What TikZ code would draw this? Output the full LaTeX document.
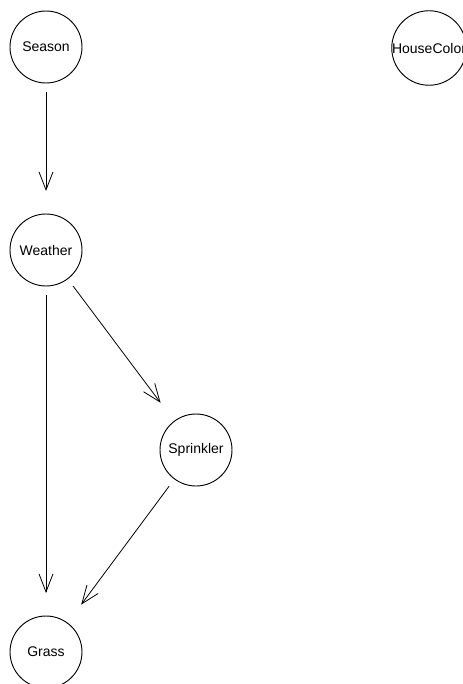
\documentclass[tikz,border=0pt]{standalone}
\usepackage{fontspec}
\setmainfont{Liberation Sans}
\usetikzlibrary{arrows.meta}
\begin{document}
\begin{tikzpicture}[x=0.75pt,y=-0.75pt,
  bnode/.style={circle,draw,line width=0.7pt,minimum size=54pt,inner sep=0pt,outer sep=0pt,font=\fontsize{10.5pt}{12pt}\selectfont},
  link/.style={line width=0.6pt,-{Straight Barb[length=13.5pt,width=10.5pt,line width=0.6pt]},shorten <=6.75pt,shorten >=17.25pt}]
\useasboundingbox (0,0) rectangle (463,684);
\clip (0,0) rectangle (463,684);
\node[bnode] (season) at (46,47) {Season};
\node[bnode] (house) at (429,48) {HouseColor};
\node[bnode] (weather) at (46,250) {Weather};
\node[bnode] (sprinkler) at (196,450) {Sprinkler};
\node[bnode] (grass) at (46,652) {Grass};
\draw[link] (season) -- (weather);
\draw[link] (weather) -- (sprinkler);
\draw[link] (weather) -- (grass);
\draw[link] (sprinkler) -- (grass);
\end{tikzpicture}
\end{document}
